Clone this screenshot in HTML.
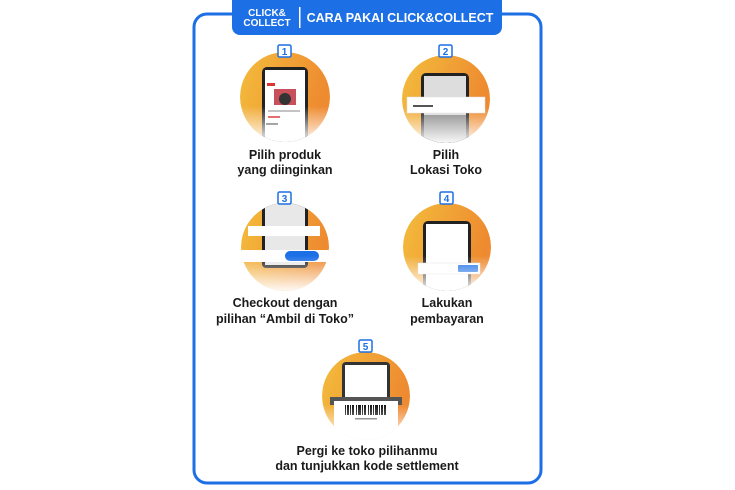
<!DOCTYPE html>
<html><head><meta charset="utf-8"><style>
html,body{margin:0;padding:0;background:#fff;}
svg{display:block;}
text{font-family:"Liberation Sans",sans-serif;font-weight:bold;}
</style></head><body>
<svg width="735" height="490" viewBox="0 0 735 490" xmlns="http://www.w3.org/2000/svg">
<defs>
<linearGradient id="g" x1="0" y1="0" x2="1" y2="0.3">
<stop offset="0" stop-color="#f3bd3c"/><stop offset="1" stop-color="#ee8a30"/>
</linearGradient>
<linearGradient id="f" x1="0" y1="0" x2="0" y2="1">
<stop offset="0.6" stop-color="#fff" stop-opacity="0"/><stop offset="1" stop-color="#fff" stop-opacity="0.95"/>
</linearGradient>
<clipPath id="c1"><circle cx="285" cy="97" r="45"/></clipPath>
<clipPath id="c2"><circle cx="446" cy="99" r="44"/></clipPath>
<clipPath id="c3"><circle cx="285" cy="247" r="44"/></clipPath>
<clipPath id="c4"><circle cx="447" cy="247" r="44"/></clipPath>
<clipPath id="c5"><circle cx="366" cy="396" r="44"/></clipPath>
</defs>
<rect x="194" y="14" width="347" height="469" rx="13" fill="#fff" stroke="#1d6fe6" stroke-width="3"/>
<path d="M232 0 H502 V27 a8 8 0 0 1 -8 8 H240 a8 8 0 0 1 -8 -8 Z" fill="#1d6fe6"/>
<text x="267" y="16" font-size="10" fill="#fff" text-anchor="middle">CLICK&amp;</text>
<text x="267" y="26" font-size="10" fill="#fff" text-anchor="middle">COLLECT</text>
<rect x="299" y="7" width="1.5" height="21" fill="#fff"/>
<text x="400" y="22" font-size="12.5" fill="#fff" text-anchor="middle">CARA PAKAI CLICK&amp;COLLECT</text>

<g clip-path="url(#c1)">
<circle cx="285" cy="97" r="45" fill="url(#g)"/>
<rect x="262" y="67" width="46" height="78" rx="5" fill="#222"/>
<rect x="265" y="70" width="40" height="75" fill="#fff"/>
<rect x="267" y="83" width="8" height="3" fill="#d33"/>
<rect x="274" y="89" width="22" height="16" fill="#c8505a"/>
<circle cx="285" cy="99" r="6" fill="#333"/>
<rect x="268" y="110" width="32" height="2" fill="#bbb"/>
<rect x="268" y="116" width="12" height="2" fill="#d33"/>
<rect x="266" y="123" width="12" height="2" fill="#555"/>
<circle cx="285" cy="97" r="45" fill="url(#f)"/>
</g>
<g clip-path="url(#c2)">
<circle cx="446" cy="99" r="44" fill="url(#g)"/>
<rect x="421" y="73" width="48" height="72" rx="5" fill="#222"/>
<rect x="424" y="76" width="42" height="69" fill="#ddd"/>
<rect x="424" y="115" width="42" height="30" fill="#888"/>
<rect x="407" y="97" width="78" height="16" fill="#fff" stroke="#ddd" stroke-width="0.5"/>
<rect x="413" y="105" width="20" height="2" fill="#555"/>
<circle cx="446" cy="99" r="44" fill="url(#f)"/>
</g>
<g clip-path="url(#c3)">
<circle cx="285" cy="247" r="44" fill="url(#g)"/>
<rect x="262" y="200" width="46" height="68" rx="4" fill="#222"/>
<rect x="265" y="200" width="40" height="65" fill="#e8e8e8"/>
<rect x="248" y="226" width="72" height="10" fill="#fff"/>
<rect x="240" y="250" width="90" height="12" fill="#fff"/>
<rect x="285" y="251" width="34" height="10" rx="5" fill="#1d6fe6"/>
<circle cx="285" cy="247" r="44" fill="url(#f)"/>
</g>
<g clip-path="url(#c4)">
<circle cx="447" cy="247" r="44" fill="url(#g)"/>
<rect x="423" y="221" width="48" height="75" rx="5" fill="#222"/>
<rect x="426" y="224" width="42" height="72" fill="#fff"/>
<rect x="418" y="263" width="62" height="11" fill="#fff" stroke="#ddd" stroke-width="0.5"/>
<rect x="458" y="265" width="20" height="7" rx="1" fill="#1d6fe6"/>
<circle cx="447" cy="247" r="44" fill="url(#f)"/>
</g>
<g clip-path="url(#c5)">
<circle cx="366" cy="396" r="44" fill="url(#g)"/>
<rect x="342" y="362" width="48" height="40" rx="4" fill="#333"/>
<rect x="345" y="365" width="42" height="37" fill="#fff"/>
<rect x="330" y="397" width="72" height="8" fill="#555"/>
<rect x="334" y="401" width="64" height="45" fill="#fff"/>
<g fill="#111">
<rect x="345" y="405" width="1" height="10"/><rect x="347" y="405" width="2" height="10"/><rect x="350" y="405" width="1" height="10"/><rect x="352" y="405" width="2" height="10"/><rect x="356" y="405" width="1" height="10"/><rect x="358" y="405" width="3" height="10"/><rect x="362" y="405" width="1" height="10"/><rect x="364" y="405" width="2" height="10"/><rect x="368" y="405" width="1" height="10"/><rect x="370" y="405" width="2" height="10"/><rect x="373" y="405" width="1" height="10"/><rect x="375" y="405" width="3" height="10"/><rect x="379" y="405" width="1" height="10"/><rect x="381" y="405" width="2" height="10"/><rect x="384" y="405" width="2" height="10"/>
</g>
<rect x="355" y="418" width="22" height="1.5" fill="#555"/>
<circle cx="366" cy="396" r="44" fill="url(#f)"/>
</g>

<g fill="#fff" stroke="#1d6fe6" stroke-width="1.5">
<rect x="278" y="45" width="13" height="12" rx="1.5"/>
<rect x="439" y="45" width="13" height="12" rx="1.5"/>
<rect x="278" y="192" width="13" height="12" rx="1.5"/>
<rect x="440" y="192" width="13" height="12" rx="1.5"/>
<rect x="359" y="340" width="13" height="12" rx="1.5"/>
</g>
<g font-size="10" fill="#1d6fe6" text-anchor="middle">
<text x="284.5" y="55">1</text><text x="445.5" y="55">2</text>
<text x="284.5" y="202">3</text><text x="446.5" y="202">4</text>
<text x="365.5" y="350">5</text>
</g>

<g font-size="12.5" fill="#1a1a1a" text-anchor="middle">
<text x="285" y="159">Pilih produk</text>
<text x="285" y="174">yang diinginkan</text>
<text x="446" y="159">Pilih</text>
<text x="446" y="174">Lokasi Toko</text>
<text x="285" y="307">Checkout dengan</text>
<text x="285" y="323">pilihan “Ambil di Toko”</text>
<text x="447" y="307">Lakukan</text>
<text x="447" y="323">pembayaran</text>
<text x="367" y="455">Pergi ke toko pilihanmu</text>
<text x="367" y="470">dan tunjukkan kode settlement</text>
</g>
</svg>
</body></html>
